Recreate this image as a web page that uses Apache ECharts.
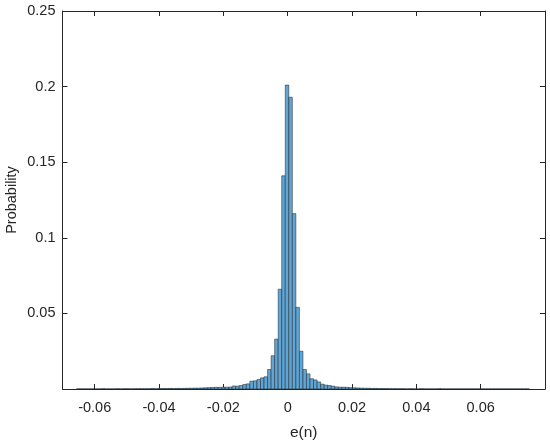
<!DOCTYPE html>
<html>
<head>
<meta charset="utf-8">
<script src="https://cdn.jsdelivr.net/npm/echarts@6/dist/echarts.min.js"></script>
<style>
  html, body { margin: 0; padding: 0; background: #fff; }
  #chart { width: 550px; height: 442px; }
</style>
</head>
<body>
<div id="chart"></div>
<script>
// histogram bins: left edge of first bin and width
var binStart = -0.06565;
var binWidth = 0.0011;

// probability per bin, left to right
var probLeft = [
  0.0001, 0.0001, 0.0001, 0.0001, 0.0001, 0.0001, 0.0001, 0.0002, 0.0001, 0.0001,
  0.0001, 0.0002, 0.0001, 0.0002, 0.0002, 0.0001, 0.0002, 0.0002, 0.0002,
  0.0002, 0.0002, 0.0003, 0.0002, 0.0003, 0.0003, 0.0003, 0.0004, 0.0003, 0.0004,
  0.0004, 0.0004, 0.0005, 0.0005, 0.0006, 0.0006, 0.0007, 0.0008, 0.0009, 0.0010,
  0.0011, 0.0011, 0.0012, 0.0012, 0.0013, 0.0020, 0.0019, 0.0023, 0.0030, 0.0034,
  0.0052, 0.0054, 0.0063, 0.0074, 0.0081, 0.0129, 0.022, 0.033, 0.066, 0.141
];
var probPeak = [0.201];
var probRight = [
  0.193, 0.116, 0.054, 0.025, 0.0129, 0.0100, 0.0068, 0.0060, 0.0047, 0.0032,
  0.0026, 0.0023, 0.0019, 0.0014, 0.0012, 0.0012, 0.0011, 0.0009, 0.0008, 0.0007,
  0.0006, 0.0005, 0.0005, 0.0004, 0.0004, 0.0003, 0.0003, 0.0003, 0.0002, 0.0002,
  0.0002, 0.0002, 0.0002, 0.0001, 0.0002, 0.0001, 0.0001, 0.0002, 0.0001, 0.0001,
  0.0001, 0.0001, 0.0002, 0.0001, 0.0001, 0.0001, 0.0001, 0.0001, 0.0001, 0.0001,
  0.0001, 0.0001, 0.0001, 0.0001, 0.0001, 0.0001, 0.0001, 0.0001, 0.0001, 0.0001,
  0.0001, 0.0001, 0.0001, 0.0001, 0.0001, 0.0001, 0.0001, 0.0001
];

var xTicks = [-0.06, -0.04, -0.02, 0, 0.02, 0.04, 0.06];
var yTicks = [0.05, 0.1, 0.15, 0.2, 0.25];

var probs = probLeft.concat(probPeak, probRight);
var bins = probs.map(function (p, i) {
  var x0 = binStart + i * binWidth;
  return [x0, x0 + binWidth, p];
});

var axisColor = '#262626';
var fontFam = '"Liberation Sans", Arial, sans-serif';
function fmt(v) { return String(parseFloat(v.toFixed(2))); }

var chart = echarts.init(document.getElementById('chart'), null, { renderer: 'canvas' });

chart.setOption({
  animation: false,
  backgroundColor: '#ffffff',
  grid: { left: 62.5, right: 5, top: 11, bottom: 53, containLabel: false, outerBoundsMode: 'none' },
  xAxis: [{
    type: 'value',
    min: -0.07, max: 0.08, interval: 0.01,
    name: 'e(n)', nameLocation: 'middle', nameGap: 36, nameMoveOverlap: false,
    nameTextStyle: { color: axisColor, fontSize: 15.5, fontFamily: fontFam },
    axisLine: { lineStyle: { color: axisColor, width: 1 } },
    axisTick: { inside: true, length: 5, customValues: xTicks, lineStyle: { color: axisColor } },
    axisLabel: { customValues: xTicks, color: axisColor, fontSize: 14.5, fontFamily: fontFam, margin: 11, formatter: fmt },
    splitLine: { show: false }
  }, {
    type: 'value', position: 'top',
    min: -0.07, max: 0.08, interval: 0.01,
    axisLine: { onZero: false, lineStyle: { color: axisColor, width: 1 } },
    axisTick: { inside: true, length: 5, customValues: xTicks, lineStyle: { color: axisColor } },
    axisLabel: { show: false },
    splitLine: { show: false }
  }],
  yAxis: [{
    type: 'value',
    min: 0, max: 0.25, interval: 0.05,
    name: 'Probability', nameLocation: 'middle', nameGap: 43, nameMoveOverlap: false,
    nameTextStyle: { color: axisColor, fontSize: 14.5, fontFamily: fontFam },
    axisLine: { show: true, onZero: false, lineStyle: { color: axisColor, width: 1 } },
    axisTick: { show: true, inside: true, length: 5, customValues: yTicks, lineStyle: { color: axisColor } },
    axisLabel: { customValues: yTicks, color: axisColor, fontSize: 14.5, fontFamily: fontFam, margin: 7, formatter: fmt },
    splitLine: { show: false }
  }, {
    type: 'value', position: 'right',
    min: 0, max: 0.25, interval: 0.05,
    axisLine: { show: true, onZero: false, lineStyle: { color: axisColor, width: 1 } },
    axisTick: { show: true, inside: true, length: 5, customValues: yTicks, lineStyle: { color: axisColor } },
    axisLabel: { show: false },
    splitLine: { show: false }
  }],
  series: [{
    type: 'custom',
    xAxisIndex: 0, yAxisIndex: 0,
    encode: { x: [0, 1], y: 2 },
    data: bins,
    renderItem: function (params, api) {
      var top = api.coord([api.value(0), api.value(2)]);
      var bot = api.coord([api.value(1), 0]);
      return {
        type: 'rect',
        shape: { x: top[0], y: top[1], width: bot[0] - top[0], height: bot[1] - top[1] },
        style: { fill: '#5fa5d5', stroke: '#1e1e1e', lineWidth: 0.5 }
      };
    }
  }]
});
</script>
</body>
</html>
